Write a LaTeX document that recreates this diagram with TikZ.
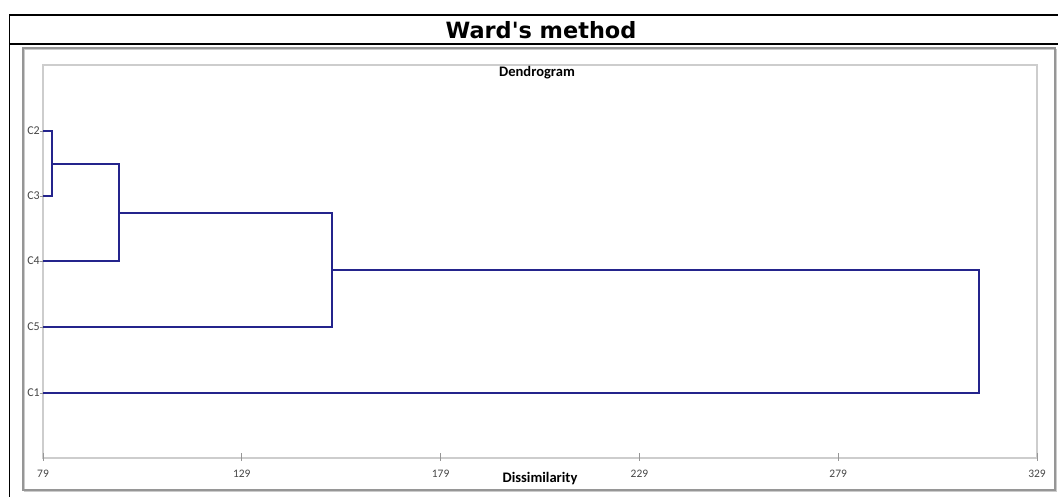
\documentclass[tikz,border=0pt]{standalone}
\usepackage{fontspec}
\newfontfamily\wardfont{DejaVu Sans}
\newfontfamily\chartfont{Carlito}
\definecolor{dendro}{RGB}{36,36,140}
\definecolor{framegray}{RGB}{150,150,150}
\definecolor{plotgray}{RGB}{205,205,205}
\definecolor{labgray}{RGB}{70,70,70}
\tikzset{
  tableline/.style={draw=black, line width=1.8bp},
  branch/.style={draw=dendro, line width=2bp},
  leaflab/.style={anchor=east, inner sep=0pt, text=labgray, font=\chartfont\fontsize{12}{14}\selectfont},
  ticklab/.style={anchor=center, inner sep=0pt, text=labgray, font=\chartfont\fontsize{11.5}{13}\selectfont},
  axtitle/.style={anchor=center, inner sep=0pt, text=black, font=\chartfont\bfseries\fontsize{14.6}{16}\selectfont},
  tickmark/.style={draw=framegray, line width=0.8bp},
}
\begin{document}
\begin{tikzpicture}[x=1bp,y=-1bp]
\useasboundingbox (0,0) rectangle (1058,497);
\fill[white] (0,0) rectangle (1058,497);
% table
\draw[tableline] (9.5,497) -- (9.5,15) -- (1058,15);
\draw[black, line width=1.5bp] (9.5,44) -- (1058,44);
\node[anchor=center, inner sep=0pt, font=\wardfont\bfseries\fontsize{22.5}{26}\selectfont] (title) at (541,30) {Ward's method};
% chart frame
\draw[draw=framegray!50, line width=1bp] (24.5,49.5) rectangle (1056.5,491.5);
\draw[draw=framegray, line width=1.5bp] (23,48) rectangle (1055,490);
% plot area
\draw[draw=plotgray, line width=1.2bp] (43,65) rectangle (1037,458);
\node[axtitle] (dtitle) at (537,73) {Dendrogram};
\node[axtitle] (xtitle) at (540,479) {Dissimilarity};
% x ticks
\foreach \v/\xx in {79/43,129/241.8,179/440.6,229/639.4,279/838.2,329/1037}{
  \draw[tickmark] (\xx,453) -- (\xx,461);
  \node[ticklab] (t\v) at (\xx,473.5) {\v};
}
% leaves
\foreach \n/\yy in {2/131,3/196,4/261,5/327,1/393}{
  \coordinate (l\n) at (43,\yy);
  \draw[tickmark] (39.5,\yy) -- (43,\yy);
  \node[leaflab] (lab\n) at (40,\yy) {C\n};
}
% merge points
\coordinate (m23) at (52,164);
\coordinate (m234) at (119,213);
\coordinate (m2345) at (332,270);
\coordinate (root) at (979,332);
% dendrogram branches
\draw[branch] (l2) -| (m23) |- (l3);
\draw[branch] (m23) -| (m234) |- (l4);
\draw[branch] (m234) -| (m2345) |- (l5);
\draw[branch] (m2345) -| (root) |- (l1);
\end{tikzpicture}
\end{document}
